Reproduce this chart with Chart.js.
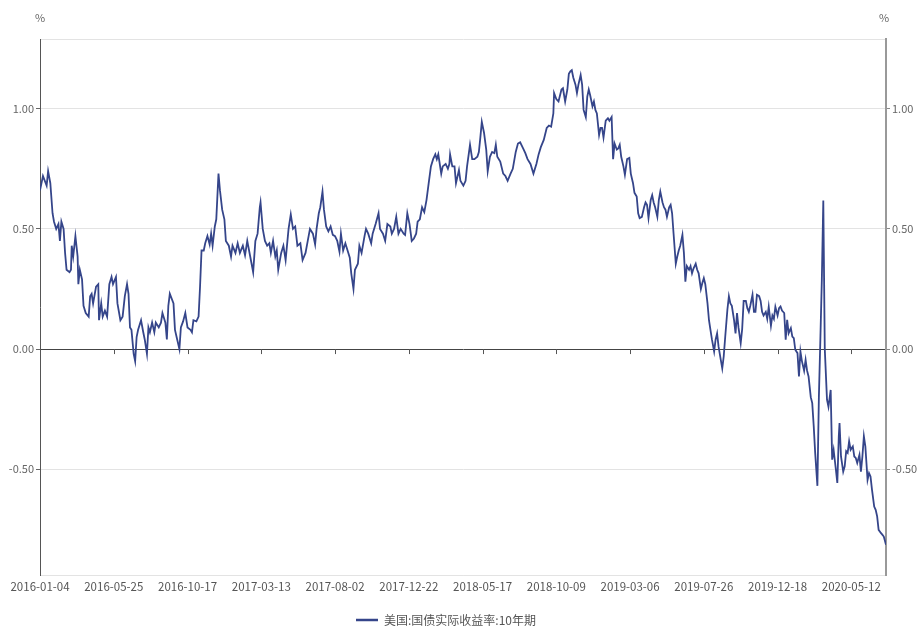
<!DOCTYPE html>
<html>
<head>
<meta charset="utf-8">
<script src="https://cdn.jsdelivr.net/npm/chart.js@4.4.0/dist/chart.umd.min.js"></script>
<style>
  body { margin: 0; background: #fff; }
  #wrap { width: 918px; height: 628px; }
</style>
</head>
<body>
<div id="wrap"><canvas id="chart"></canvas></div>
<script>
// 美国10年期国债实际收益率 (%), 按交易日序号取样 (0 = 2016-01-04)
const dayIdx = [
  0, 4, 9, 11, 14, 17, 19, 22, 25, 27, 29, 32, 34, 36, 40, 42, 43, 45, 48, 51, 52, 54, 57, 59, 62, 66, 68, 70, 72, 76,
  79, 80, 83, 85, 88, 91, 94, 97, 99, 103, 105, 109, 112, 115, 118, 120, 122, 124, 127, 129, 131, 133, 137, 140, 142, 145, 147, 149, 152, 155,
  157, 161, 164, 166, 170, 172, 174, 176, 181, 183, 186, 189, 191, 194, 197, 200, 204, 206, 208, 212, 215, 217, 219, 222, 224, 227, 230, 232, 234, 237,
  239, 242, 244, 247, 250, 252, 256, 259, 261, 265, 268, 271, 275, 278, 281, 285, 289, 292, 295, 298, 299, 302, 305, 308, 311, 313, 316, 319, 321, 323,
  327, 330, 333, 337, 340, 343, 346, 349, 353, 356, 360, 363, 366, 370, 373, 375, 378, 380, 383, 385, 388, 391, 394, 397, 400, 403, 406, 408, 411, 414,
  417, 420, 422, 425, 427, 431, 433, 436, 440, 442, 445, 449, 451, 455, 459, 461, 465, 468, 471, 475, 477, 480, 483, 486, 489, 493, 495, 498, 501, 504,
  507, 510, 512, 515, 518, 521, 524, 527, 530, 533, 536, 538, 540, 544, 546, 550, 553, 555, 556, 559, 562, 564, 568, 570, 574, 577, 579, 583, 586, 589,
  593, 595, 597, 599, 602, 605, 607, 610, 613, 616, 618, 620, 624, 628, 631, 634, 638, 641, 645, 648, 651, 655, 658, 661, 665, 669, 673, 676, 679, 683,
  687, 690, 693, 696, 697, 700, 703, 707, 709, 712, 715, 717, 719, 721, 723, 726, 728, 730, 733, 735, 737, 740, 742, 744, 746, 749, 751, 753, 755, 758,
  760, 762, 764, 767, 770, 772, 775, 777, 779, 782, 784, 786, 788, 791, 793, 796, 799, 801, 804, 806, 809, 811, 813, 816, 819, 821, 823, 825, 828, 830,
  832, 834, 837, 839, 841, 844, 846, 848, 850, 853, 855, 857, 859, 862, 864, 866, 868, 871, 873, 875, 877, 880, 882, 884, 886, 889, 891, 893, 896, 898,
  900, 902, 905, 907, 909, 911, 914, 916, 918, 920, 923, 925, 927, 929, 932, 934, 936, 938, 941, 943, 945, 947, 950, 952, 954, 957, 959, 961, 963, 966,
  968, 970, 972, 975, 977, 979, 981, 984, 986, 988, 991, 993, 995, 997, 1000, 1002, 1004, 1006, 1009, 1011, 1013, 1015, 1018, 1020, 1022, 1024, 1027, 1029, 1031, 1033,
  1036, 1038, 1040, 1042, 1045, 1047, 1049, 1051, 1054, 1056, 1058, 1060, 1062, 1064, 1065, 1067, 1069, 1072, 1074, 1076, 1079, 1081, 1083, 1084, 1086, 1089, 1091, 1093, 1095, 1097,
  1099, 1102, 1104, 1106, 1108, 1111, 1113, 1115, 1117, 1119, 1122, 1124, 1126, 1128, 1131, 1133, 1135, 1137, 1140, 1142, 1144, 1147
];
const realYield = [
  0.66, 0.72, 0.68, 0.74, 0.69, 0.565, 0.53, 0.50, 0.52, 0.45, 0.53, 0.50, 0.40, 0.33, 0.32, 0.33, 0.43, 0.385, 0.47, 0.385, 0.27, 0.33, 0.29, 0.18, 0.15, 0.135, 0.22, 0.23, 0.19, 0.26,
  0.27, 0.12, 0.19, 0.135, 0.16, 0.135, 0.27, 0.30, 0.27, 0.30, 0.19, 0.12, 0.135, 0.22, 0.27, 0.23, 0.09, 0.08, -0.02, -0.05, 0.05, 0.08, 0.12, 0.07, 0.04, -0.02, 0.09, 0.07, 0.11, 0.07,
  0.11, 0.09, 0.11, 0.15, 0.11, 0.04, 0.18, 0.23, 0.19, 0.08, 0.04, 0.00, 0.09, 0.115, 0.15, 0.09, 0.08, 0.07, 0.12, 0.115, 0.135, 0.26, 0.41, 0.41, 0.44, 0.47, 0.435, 0.48, 0.43, 0.51,
  0.54, 0.73, 0.66, 0.58, 0.54, 0.45, 0.43, 0.385, 0.43, 0.40, 0.44, 0.40, 0.43, 0.39, 0.45, 0.385, 0.32, 0.45, 0.48, 0.59, 0.61, 0.50, 0.45, 0.43, 0.44, 0.40, 0.45, 0.385, 0.41, 0.33,
  0.40, 0.43, 0.37, 0.50, 0.56, 0.50, 0.51, 0.43, 0.44, 0.37, 0.40, 0.45, 0.50, 0.48, 0.435, 0.50, 0.565, 0.59, 0.655, 0.58, 0.51, 0.49, 0.51, 0.475, 0.47, 0.45, 0.405, 0.48, 0.41, 0.44,
  0.41, 0.38, 0.315, 0.25, 0.33, 0.355, 0.43, 0.40, 0.47, 0.50, 0.48, 0.44, 0.48, 0.52, 0.565, 0.50, 0.48, 0.45, 0.52, 0.51, 0.48, 0.50, 0.55, 0.48, 0.50, 0.48, 0.475, 0.565, 0.52, 0.45,
  0.46, 0.48, 0.53, 0.54, 0.59, 0.57, 0.62, 0.69, 0.76, 0.79, 0.81, 0.79, 0.81, 0.73, 0.76, 0.77, 0.75, 0.77, 0.81, 0.76, 0.76, 0.69, 0.745, 0.70, 0.68, 0.70, 0.76, 0.85, 0.79, 0.79,
  0.80, 0.82, 0.88, 0.945, 0.90, 0.83, 0.74, 0.80, 0.82, 0.815, 0.85, 0.80, 0.78, 0.73, 0.72, 0.70, 0.73, 0.75, 0.82, 0.855, 0.86, 0.835, 0.815, 0.79, 0.77, 0.73, 0.77, 0.81, 0.84, 0.87,
  0.92, 0.93, 0.925, 0.98, 1.065, 1.04, 1.03, 1.08, 1.085, 1.03, 1.08, 1.145, 1.155, 1.16, 1.13, 1.10, 1.065, 1.10, 1.14, 1.10, 0.995, 0.965, 1.05, 1.08, 1.055, 1.01, 1.03, 0.995, 0.98, 0.89,
  0.92, 0.92, 0.88, 0.95, 0.96, 0.95, 0.965, 0.79, 0.855, 0.83, 0.835, 0.85, 0.80, 0.76, 0.725, 0.79, 0.795, 0.73, 0.69, 0.65, 0.635, 0.565, 0.545, 0.55, 0.59, 0.61, 0.60, 0.545, 0.62, 0.64,
  0.61, 0.59, 0.55, 0.62, 0.655, 0.61, 0.59, 0.58, 0.55, 0.59, 0.60, 0.565, 0.48, 0.355, 0.385, 0.41, 0.43, 0.475, 0.40, 0.28, 0.345, 0.33, 0.345, 0.315, 0.335, 0.355, 0.33, 0.315, 0.25, 0.275,
  0.295, 0.27, 0.19, 0.12, 0.08, 0.04, -0.01, 0.04, 0.065, 0.01, -0.045, -0.08, -0.03, 0.05, 0.165, 0.22, 0.19, 0.18, 0.12, 0.065, 0.15, 0.09, 0.025, 0.083, 0.20, 0.20, 0.17, 0.155, 0.18, 0.226,
  0.155, 0.155, 0.226, 0.22, 0.20, 0.155, 0.14, 0.155, 0.126, 0.176, 0.097, 0.14, 0.126, 0.176, 0.14, 0.17, 0.177, 0.16, 0.15, 0.039, 0.122, 0.066, 0.087, 0.052, 0.045, -0.003, -0.017, -0.114, -0.01, -0.05,
  -0.09, -0.045, -0.09, -0.114, -0.20, -0.225, -0.32, -0.433, -0.569, -0.2, 0.039, 0.288, 0.618, 0.0, -0.07, -0.21, -0.24, -0.17, -0.46, -0.42, -0.50, -0.557, -0.363, -0.308, -0.447, -0.51, -0.488, -0.425, -0.432, -0.384,
  -0.419, -0.405, -0.447, -0.453, -0.474, -0.44, -0.51, -0.447, -0.363, -0.405, -0.544, -0.516, -0.53, -0.585, -0.655, -0.669, -0.696, -0.752, -0.765, -0.772, -0.78, -0.814
];
// 横轴标签，每100个交易日一个
const tickDates = ['2016-01-04', '2016-05-25', '2016-10-17', '2017-03-13', '2017-08-02', '2017-12-22',
  '2018-05-17', '2018-10-09', '2019-03-06', '2019-07-26', '2019-12-18', '2020-05-12'];
const yTicks = [-0.5, 0, 0.5, 1.0];
const seriesName = '美国:国债实际收益率:10年期';
const lineColor = '#35458a';

const FONT = '"Noto Sans CJK SC", "Noto Sans", sans-serif';
const yMin = -0.94, yMax = 1.29;

// 零轴刻度、单位和图例
const extras = {
  id: 'extras',
  afterDraw(chart) {
    const { ctx, chartArea, scales } = chart;
    const x = scales.x, y = scales.y;
    const y0 = y.getPixelForValue(0);
    ctx.save();
    ctx.strokeStyle = '#555';
    ctx.lineWidth = 1;
    x.ticks.forEach(t => {
      const px = Math.round(x.getPixelForValue(t.value)) + 0.5;
      ctx.beginPath();
      ctx.moveTo(px, y0);
      ctx.lineTo(px, y0 + 5);
      ctx.stroke();
    });
    ctx.fillStyle = '#666';
    ctx.font = '11px ' + FONT;
    ctx.textAlign = 'center';
    ctx.textBaseline = 'middle';
    ctx.fillText('%', chartArea.left, chartArea.top - 21);
    ctx.fillText('%', chartArea.right - 2, chartArea.top - 21);

    // 图例
    const ds = chart.data.datasets[0];
    ctx.font = '12px ' + FONT;
    const tw = ctx.measureText(ds.label).width;
    const total = 22 + 6 + tw;
    const lx = chart.width / 2 - 13 - total / 2;
    const ly = chart.height - 8;
    ctx.strokeStyle = ds.borderColor;
    ctx.lineWidth = 2.5;
    ctx.beginPath();
    ctx.moveTo(lx, ly);
    ctx.lineTo(lx + 22, ly);
    ctx.stroke();
    ctx.fillStyle = '#555';
    ctx.textAlign = 'left';
    ctx.fillText(ds.label, lx + 28, ly);
    ctx.restore();
  }
};

new Chart(document.getElementById('chart'), {
  type: 'line',
  data: {
    datasets: [{
      label: seriesName,
      data: dayIdx.map((d, i) => ({ x: d, y: realYield[i] })),
      borderColor: lineColor,
      backgroundColor: lineColor,
      borderWidth: 1.8,
      pointRadius: 0,
      tension: 0
    }]
  },
  options: {
    responsive: true,
    maintainAspectRatio: false,
    animation: false,
    layout: { padding: { top: 39, left: 0, right: 0, bottom: 0 } },
    plugins: {
      legend: { display: false },
      tooltip: { enabled: false }
    },
    scales: {
      x: {
        type: 'linear',
        min: 0,
        max: 1147,
        afterBuildTicks: (s) => { s.ticks = tickDates.map((_, i) => ({ value: i * 100 })); },
        afterFit: (s) => { s.height = 53; },
        grid: { display: false, drawTicks: false },
        border: { color: '#e3e3e3', width: 1 },
        ticks: {
          autoSkip: false,
          maxRotation: 0,
          padding: 5,
          color: '#555',
          font: { family: FONT, size: 11.5 },
          callback: (v) => tickDates[v / 100]
        }
      },
      y: {
        position: 'left',
        min: yMin,
        max: yMax,
        afterBuildTicks: (s) => { s.ticks = [yMin, ...yTicks, yMax].map(v => ({ value: v })); },
        afterFit: (s) => { s.width = 40; },
        grid: {
          color: (c) => c.tick && c.tick.value === 0 ? '#444' : '#e3e3e3',
          tickColor: (c) => c.tick && yTicks.includes(c.tick.value) ? '#666' : 'rgba(0,0,0,0)',
          tickLength: 4
        },
        border: { color: '#555', width: 1 },
        ticks: {
          padding: 2,
          color: '#666',
          font: { family: FONT, size: 11 },
          callback: (v) => yTicks.includes(v) ? v.toFixed(2) : ''
        }
      },
      y1: {
        position: 'right',
        min: yMin,
        max: yMax,
        afterBuildTicks: (s) => { s.ticks = yTicks.map(v => ({ value: v })); },
        afterFit: (s) => { s.width = 32; },
        grid: { drawOnChartArea: false, tickColor: '#888', tickLength: 4 },
        border: { color: '#999', width: 2 },
        ticks: {
          padding: 2,
          color: '#666',
          font: { family: FONT, size: 11 },
          callback: (v) => v.toFixed(2)
        }
      }
    }
  },
  plugins: [extras]
});
</script>
</body>
</html>
